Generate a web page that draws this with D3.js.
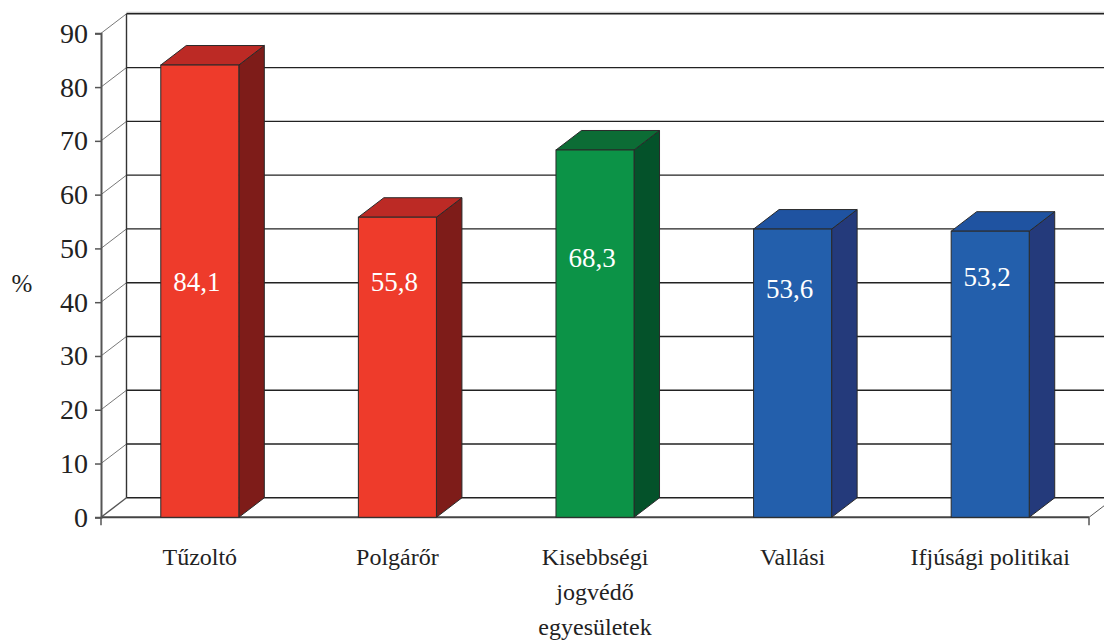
<!DOCTYPE html>
<html>
<head>
<meta charset="utf-8">
<script src="https://cdn.jsdelivr.net/npm/d3@7"></script>
<style>
  html, body { margin: 0; padding: 0; background: #fff; }
  svg { display: block; }
  text { font-family: "Liberation Serif", "Times New Roman", Times, Tinos, serif; }
</style>
</head>
<body>
<svg id="chart" width="1104" height="642"></svg>
<script>
// Organisation types and share (%)
const categories = ["Tűzoltó", "Polgárőr", "Kisebbségi jogvédő egyesületek", "Vallási", "Ifjúsági politikai"];
const categoryLines = [["Tűzoltó"], ["Polgárőr"], ["Kisebbségi", "jogvédő", "egyesületek"], ["Vallási"], ["Ifjúsági politikai"]];
const values = [84.1, 55.8, 68.3, 53.6, 53.2];
const valueLabels = ["84,1", "55,8", "68,3", "53,6", "53,2"];
const colorGroups = ["red", "red", "green", "blue", "blue"];
const yTicks = [0, 10, 20, 30, 40, 50, 60, 70, 80, 90];
const yTitle = "%";

// Face shades for each colour group: front, top, side
const palette = {
  red:   { front: "#ee3b2b", top: "#bc2a25", side: "#7e1c19" },
  green: { front: "#0c9347", top: "#0c6c35", side: "#04522a" },
  blue:  { front: "#235fac", top: "#1f53a1", side: "#243a7b" }
};

// Height (in axis units) at which each value label sits inside its bar
const labelLevel = [43.7, 43.7, 48.2, 42.4, 44.6];

const FONT = "'Liberation Serif', 'Times New Roman', Times, Tinos, serif";
const svg = d3.select("#chart");
const DX = 25.5, DY = 19.5;   // depth offset of the 3D box
const left = 101, right = 1089;

const y = d3.scaleLinear().domain([0, 90]).range([517.3, 33.3]);
const x = d3.scaleBand().domain(categories).range([left, right]).padding(0);
const barW = x.bandwidth() * 0.395;

const grid = svg.append("g");

// Back wall gridlines and side diagonals
yTicks.forEach(t => {
  const yy = y(t);
  grid.append("line")
    .attr("x1", left + DX).attr("x2", 1110)
    .attr("y1", yy - DY).attr("y2", yy - DY)
    .attr("stroke", "#222").attr("stroke-width", 1.4);
  grid.append("line")
    .attr("x1", left).attr("y1", yy)
    .attr("x2", left + DX).attr("y2", yy - DY)
    .attr("stroke", "#555").attr("stroke-width", t === 0 ? 1.4 : 0.8);
});
// light edge above the top gridline
grid.append("line")
  .attr("x1", left + DX).attr("x2", 1110)
  .attr("y1", y(90) - DY - 1.5).attr("y2", y(90) - DY - 1.5)
  .attr("stroke", "#bbb").attr("stroke-width", 1);
// back wall left edge
grid.append("line")
  .attr("x1", left + DX).attr("x2", left + DX)
  .attr("y1", y(90) - DY).attr("y2", y(0) - DY)
  .attr("stroke", "#333").attr("stroke-width", 1.4);

// Floor edges
grid.append("line")
  .attr("x1", left).attr("x2", right)
  .attr("y1", y(0)).attr("y2", y(0))
  .attr("stroke", "#444").attr("stroke-width", 2);
grid.append("line")
  .attr("x1", right).attr("y1", y(0))
  .attr("x2", right + DX).attr("y2", y(0) - DY)
  .attr("stroke", "#555").attr("stroke-width", 1);
[left, right].forEach(xx => {
  grid.append("line")
    .attr("x1", xx).attr("x2", xx)
    .attr("y1", y(0)).attr("y2", y(0) + 8)
    .attr("stroke", "#555").attr("stroke-width", 1.5);
});

// Front value axis
const yAxis = d3.axisLeft(y).tickValues(yTicks).tickSize(6).tickPadding(7).tickFormat(d3.format("d"));
const ag = svg.append("g").attr("transform", `translate(${left},0)`).call(yAxis);
ag.attr("font-family", null).attr("font-size", null);
ag.select(".domain").attr("stroke", "#555").attr("stroke-width", 2);
ag.selectAll(".tick line").attr("stroke", "#555").attr("stroke-width", 1.5);
ag.selectAll(".tick text")
  .attr("fill", "#222")
  .style("font-family", FONT)
  .style("font-size", "28px");

svg.append("text")
  .attr("x", 22).attr("y", 283)
  .attr("text-anchor", "middle").attr("dominant-baseline", "central")
  .attr("fill", "#222").style("font-family", FONT).style("font-size", "25px")
  .text(yTitle);

// 3D bars
const bars = svg.append("g");
categories.forEach((c, i) => {
  const x0 = x(c) + (x.bandwidth() - barW) / 2;
  const x1 = x0 + barW;
  const yt = y(values[i]);
  const yb = y(0);
  const col = palette[colorGroups[i]];
  const edge = "#2a2a2a";

  bars.append("polygon")
    .attr("points", [[x1, yt], [x1 + DX, yt - DY], [x1 + DX, yb - DY], [x1, yb]].join(" "))
    .attr("fill", col.side).attr("stroke", edge).attr("stroke-width", 1).attr("stroke-linejoin", "round");
  bars.append("polygon")
    .attr("points", [[x0, yt], [x0 + DX, yt - DY], [x1 + DX, yt - DY], [x1, yt]].join(" "))
    .attr("fill", col.top).attr("stroke", edge).attr("stroke-width", 1).attr("stroke-linejoin", "round");
  bars.append("rect")
    .attr("x", x0).attr("y", yt)
    .attr("width", barW).attr("height", yb - yt)
    .attr("fill", col.front).attr("stroke", edge).attr("stroke-width", 1);

  bars.append("text")
    .attr("x", x0 + barW / 2 - 3)
    .attr("y", y(labelLevel[i]))
    .attr("text-anchor", "middle").attr("dominant-baseline", "central")
    .attr("fill", "#fff").style("font-family", FONT).style("font-size", "27px")
    .text(valueLabels[i]);
});

// Category labels
categories.forEach((c, i) => {
  const cx = x(c) + x.bandwidth() / 2;
  const t = svg.append("text")
    .attr("text-anchor", "middle")
    .attr("fill", "#222").style("font-family", FONT).style("font-size", "24px");
  categoryLines[i].forEach((line, k) => {
    t.append("tspan").attr("x", cx).attr("y", 565 + k * 35).text(line);
  });
});
</script>
</body>
</html>
